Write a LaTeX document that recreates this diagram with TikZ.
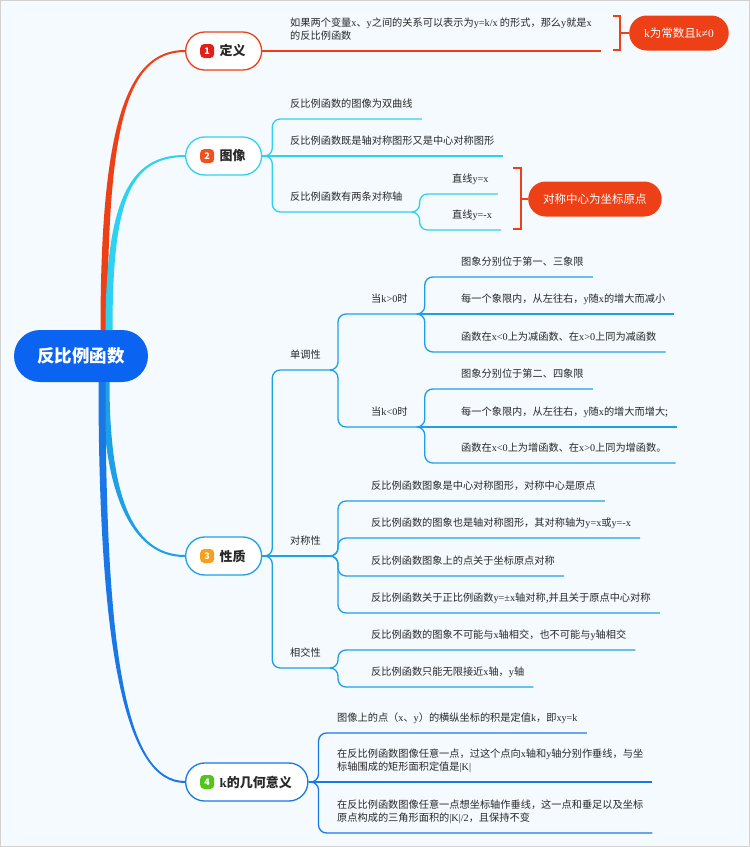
\documentclass[tikz,border=0pt]{standalone}
\usepackage{fontspec}
\usepackage{xcolor}
\usepackage{tikz}
\usetikzlibrary{positioning}
\setmainfont{Noto Sans CJK SC}
\newfontfamily\latin{Liberation Serif}
\newcommand{\lx}[1]{{\latin #1}}
\definecolor{c0}{RGB}{11,99,242}
\definecolor{c1}{RGB}{238,64,22}
\definecolor{c2}{RGB}{46,210,240}
\definecolor{c3}{RGB}{30,160,230}
\definecolor{c4}{RGB}{26,120,230}
\definecolor{n1}{RGB}{225,32,27}
\definecolor{n2}{RGB}{240,82,30}
\definecolor{n3}{RGB}{246,160,30}
\definecolor{n4}{RGB}{82,196,26}
\definecolor{bg}{RGB}{245,250,254}
\definecolor{tx}{RGB}{40,40,40}

\begin{document}
\begin{tikzpicture}[x=1pt,y=-1pt,%
  leaf/.style={anchor=south west,inner xsep=9pt,inner ysep=0pt,text height=8pt,text depth=11.5pt,align=left,text=tx,font=\fontsize{10.2pt}{13pt}\selectfont},%
  topic/.style={draw=#1,fill=white,line width=1.3pt,rounded corners=19pt,minimum height=38pt,inner xsep=16pt,anchor=west,text=tx,font=\bfseries\fontsize{13pt}{15pt}\selectfont},%
  badge/.style={fill=#1,rounded corners=4pt,minimum size=14pt,inner sep=0pt,text=white,font=\bfseries\fontsize{9pt}{9pt}\selectfont},%
  br/.style={draw=#1,line width=1.3pt,rounded corners=8pt},%
  sumbox/.style={fill=c1,rounded corners=17.5pt,minimum height=35pt,inner xsep=15pt,text=white,font=\fontsize{11.5pt}{13pt}\selectfont},%
  brk/.style={draw=c1,line width=1.3pt}%
  ]
  \useasboundingbox (0,0) rectangle (750,847);
  \fill[bg] (0,0) rectangle (750,847);
  \draw[black!18,line width=1pt] (0.5,0.5) rectangle (749.5,846.5);
%
  \node (root) [fill=c0,rounded corners=26pt,minimum width=134pt,minimum height=52pt,text=white,font=\bfseries\fontsize{17.5pt}{20pt}\selectfont] at (81,356) {反比例函数};
%
  \node (def) [topic=c1] at (185,51)  {\hspace{18pt}定义};
  \node (img) [topic=c2] at (185,156) {\hspace{18pt}图像};
  \node (prp) [topic=c3] at (185,556) {\hspace{18pt}性质};
  \node (kgm) [topic=c4] at (185,782) {\hspace{18pt}\lx{k}的几何意义};
  \node (b1) [badge=n1,right=15pt of def.west] {1};
  \node (b2) [badge=n2,right=15pt of img.west] {2};
  \node (b3) [badge=n3,right=15pt of prp.west] {3};
  \node (b4) [badge=n4,right=15pt of kgm.west] {4};
%
  \coordinate (r1) at (104,330);
  \coordinate (r2) at (109,330);
  \coordinate (r3) at (106,382);
  \coordinate (r4) at (102,382);
  \fill[c1] ([xshift=-3.5pt]r1) .. controls (100.5,130) and (125,49.8) .. ([yshift=1pt]def.west) -- ([yshift=-1pt]def.west) .. controls (125,52.2) and (107.5,130) .. ([xshift=3.5pt]r1) -- cycle;
  \fill[c2] ([xshift=-3.5pt]r2) .. controls (105.5,200) and (130,154.8) .. ([yshift=1pt]img.west) -- ([yshift=-1pt]img.west) .. controls (130,157.2) and (112.5,200) .. ([xshift=3.5pt]r2) -- cycle;
  \fill[c3] ([xshift=-3.5pt]r3) .. controls (102.5,490) and (130,557.2) .. ([yshift=-1pt]prp.west) -- ([yshift=1pt]prp.west) .. controls (130,554.8) and (109.5,490) .. ([xshift=3.5pt]r3) -- cycle;
  \fill[c4] ([xshift=-3.5pt]r4) .. controls (98.5,650) and (125,783.2) .. ([yshift=-1pt]kgm.west) -- ([yshift=1pt]kgm.west) .. controls (125,780.8) and (105.5,650) .. ([xshift=3.5pt]r4) -- cycle;
%
  % definition
  \node (d1) [leaf] at (281,51) {如果两个变量\lx{x}、\lx{y}之间的关系可以表示为\lx{y=k/x} 的形式，那么\lx{y}就是\lx{x}\\的反比例函数};
  \draw[br=c1] (def.east) -- (d1.south east);
  \draw[brk] (613,16) -- (620,16) -- (620,50) -- (613,50);
  \coordinate (q1) at (620,33);
  \node (k0) [sumbox,right=9pt of q1] {\lx{k}为常数且\lx{k≠0}};
  \draw[brk] (q1) -- (k0.west);
%
  % image
  \node (i1) [leaf] at (281,119) {反比例函数的图像为双曲线};
  \node (i2) [leaf] at (281,156) {反比例函数既是轴对称图形又是中心对称图形};
  \node (i3) [leaf] at (281,212) {反比例函数有两条对称轴};
  \node (s1) [leaf] at (443,194) {直线\lx{y=x}};
  \node (s2) [leaf] at (443,230) {直线\lx{y=-x}};
  \draw[br=c2] (img.east) -- ++(10,0) |- (i1.south east);
  \draw[br=c2] (img.east) -- (i2.south east);
  \draw[br=c2] (img.east) -- ++(10,0) |- (i3.south east);
  \draw[br=c2] (i3.south east) -- ++(8,0) |- (s1.south east);
  \draw[br=c2] (i3.south east) -- ++(8,0) |- (s2.south east);
  \draw[brk] (513,168) -- (521,168) -- (521,229) -- (513,229);
  \coordinate (q2) at (521,199);
  \node (o0) [sumbox,right=7pt of q2] {对称中心为坐标原点};
  \draw[brk] (q2) -- (o0.west);
%
  % properties
  \node (p1) [leaf] at (281,370) {单调性};
  \node (p2) [leaf] at (281,556) {对称性};
  \node (p3) [leaf] at (281,668) {相交性};
  \draw[br=c3] (prp.east) -- ++(10,0) |- (p1.south east);
  \draw[br=c3] (prp.east) -- (p2.south east);
  \draw[br=c3] (prp.east) -- ++(10,0) |- (p3.south east);
%
  \node (m1) [leaf] at (362,314) {当\lx{k>0}时};
  \node (m2) [leaf] at (362,427) {当\lx{k<0}时};
  \draw[br=c3] (p1.south east) -- ++(8,0) |- (m1.south east);
  \draw[br=c3] (p1.south east) -- ++(8,0) |- (m2.south east);
  \node (a1) [leaf] at (452,277) {图象分别位于第一、三象限};
  \node (a2) [leaf] at (452,314) {每一个象限内，从左往右，\lx{y}随\lx{x}的增大而减小};
  \node (a3) [leaf] at (452,352) {函数在\lx{x<0}上为减函数、在\lx{x>0}上同为减函数};
  \draw[br=c3] (m1.south east) -- ++(8,0) |- (a1.south east);
  \draw[br=c3] (m1.south east) -- (a2.south east);
  \draw[br=c3] (m1.south east) -- ++(8,0) |- (a3.south east);
  \node (a4) [leaf] at (452,389) {图象分别位于第二、四象限};
  \node (a5) [leaf] at (452,427) {每一个象限内，从左往右，\lx{y}随\lx{x}的增大而增大;};
  \node (a6) [leaf] at (452,463) {函数在\lx{x<0}上为增函数、在\lx{x>0}上同为增函数。};
  \draw[br=c3] (m2.south east) -- ++(8,0) |- (a4.south east);
  \draw[br=c3] (m2.south east) -- (a5.south east);
  \draw[br=c3] (m2.south east) -- ++(8,0) |- (a6.south east);
%
  \node (c1) [leaf] at (362,501) {反比例函数图象是中心对称图形，对称中心是原点};
  \node (c2) [leaf] at (362,538) {反比例函数的图象也是轴对称图形，其对称轴为\lx{y=x}或\lx{y=-x}};
  \node (c3) [leaf] at (362,576) {反比例函数图象上的点关于坐标原点对称};
  \node (c4) [leaf] at (362,613) {反比例函数关于正比例函数\lx{y=±x}轴对称,并且关于原点中心对称};
  \draw[br=c3] (p2.south east) -- ++(8,0) |- (c1.south east);
  \draw[br=c3] (p2.south east) -- ++(8,0) |- (c2.south east);
  \draw[br=c3] (p2.south east) -- ++(8,0) |- (c3.south east);
  \draw[br=c3] (p2.south east) -- ++(8,0) |- (c4.south east);
%
  \node (e1) [leaf] at (362,650) {反比例函数的图象不可能与\lx{x}轴相交，也不可能与\lx{y}轴相交};
  \node (e2) [leaf] at (362,687) {反比例函数只能无限接近\lx{x}轴，\lx{y}轴};
  \draw[br=c3] (p3.south east) -- ++(8,0) |- (e1.south east);
  \draw[br=c3] (p3.south east) -- ++(8,0) |- (e2.south east);
%
  % meaning of k
  \node (k1) [leaf] at (328,733) {图像上的点（\lx{x}、\lx{y}）的横纵坐标的积是定值\lx{k}，即\lx{xy=k}};
  \node (k2) [leaf] at (328,782) {在反比例函数图像任意一点，过这个点向\lx{x}轴和\lx{y}轴分别作垂线，与坐\\标轴围成的矩形面积定值是\lx{|K|}};
  \node (k3) [leaf] at (328,833) {在反比例函数图像任意一点想坐标轴作垂线，这一点和垂足以及坐标\\原点构成的三角形面积的\lx{|K|/2}，且保持不变};
  \draw[br=c4] (kgm.east) -- ++(10,0) |- (k1.south east);
  \draw[br=c4] (kgm.east) -- (k2.south east);
  \draw[br=c4] (kgm.east) -- ++(10,0) |- (k3.south east);
%
\end{tikzpicture}
\end{document}
